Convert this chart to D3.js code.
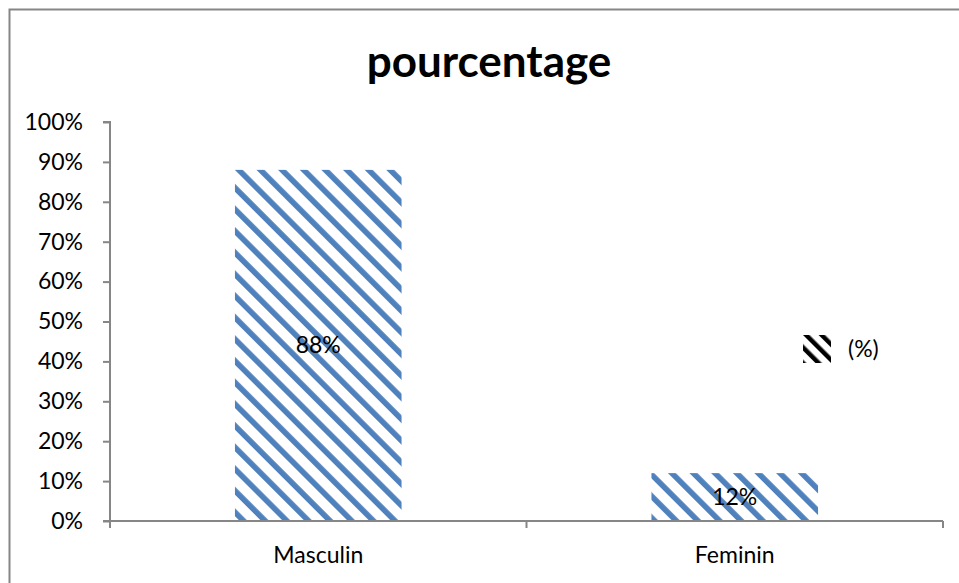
<!DOCTYPE html>
<html>
<head>
<meta charset="utf-8">
<script src="https://cdn.jsdelivr.net/npm/d3@7"></script>
<style>
  body { margin: 0; background: #fff; }
  svg text { font-family: Lato, 'Open Sans', sans-serif; fill: #000; }
</style>
</head>
<body>
<svg id="chart" width="959" height="583"></svg>
<script>
// data
var categories = ['Masculin', 'Feminin'];
var values = [0.88, 0.12];
var valueLabels = ['88%', '12%'];
var tickValues = [0, 0.1, 0.2, 0.3, 0.4, 0.5, 0.6, 0.7, 0.8, 0.9, 1];
var titleText = 'pourcentage';
var legendText = '(%)';

(function () {
  var svg = d3.select('#chart');
  var axisColor = '#868686';
  var barColor = '#4f81bd';
  var fontSize = '23px';

  // plot area
  var plotLeft = 110, plotRight = 943, plotTop = 122, plotBottom = 521;

  var x = d3.scaleBand().domain(categories).range([plotLeft, plotRight]).padding(0);
  var y = d3.scaleLinear().domain([0, 1]).range([plotBottom, plotTop]);
  var barWidth = x.bandwidth() * 0.4;

  // stripe patterns
  var defs = svg.append('defs');
  function stripes(id, color, period, thick) {
    var p = defs.append('pattern')
      .attr('id', id)
      .attr('patternUnits', 'userSpaceOnUse')
      .attr('width', period)
      .attr('height', period)
      .attr('patternTransform', 'rotate(-45)');
    p.append('rect').attr('width', period).attr('height', period).attr('fill', '#fff');
    p.append('rect').attr('width', thick).attr('height', period).attr('fill', color);
  }
  stripes('stripeBlue', barColor, 15.3, 5.6);
  stripes('stripeBlack', '#000', 11, 4.5);

  // outer border
  svg.append('rect')
    .attr('x', 9.5).attr('y', 9.5)
    .attr('width', 960).attr('height', 600)
    .attr('fill', 'none')
    .attr('stroke', axisColor)
    .attr('stroke-width', 2);

  // title
  svg.append('text')
    .attr('x', 489).attr('y', 77)
    .attr('text-anchor', 'middle')
    .style('font-size', '44px')
    .style('font-weight', 'bold')
    .text(titleText);

  // bars
  svg.selectAll('rect.bar')
    .data(values)
    .enter().append('rect')
    .attr('class', 'bar')
    .attr('x', function (d, i) { return x(categories[i]) + (x.bandwidth() - barWidth) / 2; })
    .attr('y', function (d) { return y(d); })
    .attr('width', barWidth)
    .attr('height', function (d) { return y(0) - y(d); })
    .attr('fill', 'url(#stripeBlue)');

  // value labels
  svg.selectAll('text.vlabel')
    .data(values)
    .enter().append('text')
    .attr('class', 'vlabel')
    .attr('x', function (d, i) { return x(categories[i]) + x.bandwidth() / 2; })
    .attr('y', function (d) { return y(d / 2); })
    .attr('dy', '0.35em')
    .attr('text-anchor', 'middle')
    .style('font-size', fontSize)
    .text(function (d, i) { return valueLabels[i]; });

  // y axis
  var yAxis = svg.append('g')
    .attr('transform', 'translate(' + plotLeft + ',0)')
    .call(d3.axisLeft(y).tickValues(tickValues).tickSize(7).tickPadding(20)
      .tickFormat(d3.format('.0%')));
  yAxis.select('.domain').attr('stroke', axisColor).attr('stroke-width', 2)
    .attr('d', 'M-7,' + plotTop + 'H0V' + plotBottom + 'H-7');
  yAxis.selectAll('.tick line').attr('stroke', axisColor).attr('stroke-width', 2);
  yAxis.selectAll('.tick text').style('font-size', fontSize)
    .style('font-family', 'Lato, sans-serif').attr('fill', '#000');

  // x axis
  var xAxis = svg.append('g')
    .attr('transform', 'translate(0,' + plotBottom + ')');
  xAxis.append('line')
    .attr('x1', plotLeft).attr('x2', plotRight)
    .attr('stroke', axisColor).attr('stroke-width', 2);
  xAxis.selectAll('line.tk')
    .data([plotLeft].concat(categories.map(function (c) { return x(c) + x.bandwidth(); })))
    .enter().append('line')
    .attr('class', 'tk')
    .attr('x1', function (d) { return d; }).attr('x2', function (d) { return d; })
    .attr('y1', 0).attr('y2', 7)
    .attr('stroke', axisColor).attr('stroke-width', 2);
  xAxis.selectAll('text.cat')
    .data(categories)
    .enter().append('text')
    .attr('class', 'cat')
    .attr('x', function (d) { return x(d) + x.bandwidth() / 2; })
    .attr('y', 34)
    .attr('dy', '0.35em')
    .attr('text-anchor', 'middle')
    .style('font-size', fontSize)
    .text(function (d) { return d; });

  // legend
  var legend = svg.append('g').attr('transform', 'translate(803,335)');
  legend.append('rect')
    .attr('width', 28).attr('height', 28)
    .attr('fill', 'url(#stripeBlack)');
  legend.append('text')
    .attr('x', 45).attr('y', 14)
    .attr('dy', '0.35em')
    .style('font-size', fontSize)
    .text(legendText);
})();
</script>
</body>
</html>
